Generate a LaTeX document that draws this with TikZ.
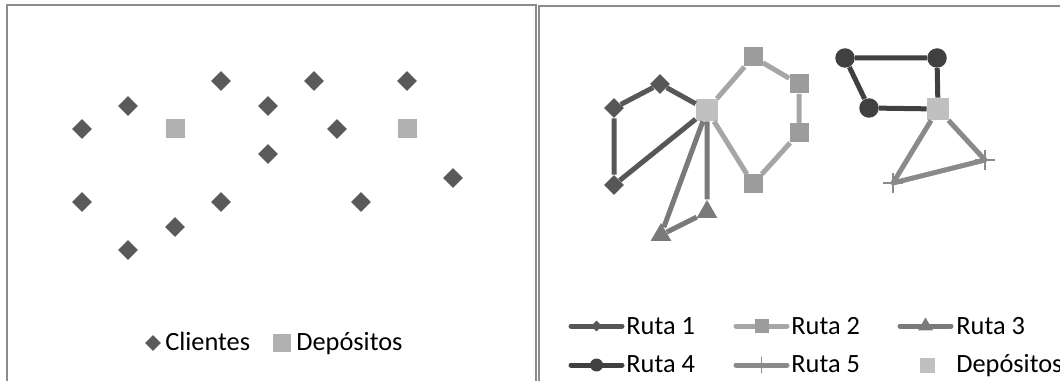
\documentclass[tikz,border=0pt]{standalone}
\usepackage{fontspec}
\setmainfont{Carlito}
\usetikzlibrary{shapes.geometric,shapes.misc}

\definecolor{cliente}{HTML}{5A5A5A}
\definecolor{depo}{HTML}{B0B0B0}
\definecolor{depoR}{HTML}{C0C0C0}
\definecolor{rutaA}{HTML}{575757}
\definecolor{rutaB}{HTML}{A6A6A6}
\definecolor{rutaBm}{HTML}{9C9C9C}
\definecolor{rutaC}{HTML}{7A7A7A}
\definecolor{rutaD}{HTML}{404040}
\definecolor{rutaE}{HTML}{8A8A8A}
\definecolor{marco}{HTML}{8C8C8C}

\begin{document}
\begin{tikzpicture}[x=0.02cm, y=-0.02cm, font=\fontsize{15}{17}\selectfont]
	\tikzstyle{cli} = [diamond, fill=cliente, inner sep=0, minimum size=0.4cm]
	\tikzstyle{dep} = [rectangle, fill=depo, inner sep=0, minimum size=0.38cm]
	\tikzstyle{r1mark} = [diamond, fill=rutaA, inner sep=0, minimum size=0.4cm]
	\tikzstyle{r2mark} = [rectangle, fill=rutaBm, inner sep=0, minimum size=0.38cm]
	\tikzstyle{r3mark} = [regular polygon, regular polygon sides=3, fill=rutaC, inner sep=0, minimum size=0.48cm]
	\tikzstyle{r4mark} = [circle, fill=rutaD, inner sep=0, minimum size=0.39cm]
	\tikzstyle{r5mark} = [cross out, draw=rutaE, line width=0.03cm, rotate=45, inner sep=0, minimum size=0.24cm]
	\tikzstyle{depR} = [rectangle, fill=depoR, inner sep=0, minimum size=0.44cm]
	\tikzstyle{ruta} = [line width=0.1cm, line join=round]
	\tikzstyle{txt} = [anchor=base west, inner sep=0, yshift=-0.16cm]

	\useasboundingbox (0,0) rectangle (1060,381);

	% marcos
	\draw[marco, line width=0.04cm] (7,381) -- (7,5) -- (536,5) -- (536,381);
	\draw[marco, line width=0.04cm] (539,381) -- (539,6) -- (1060,6);

	% clientes y depositos
	\node[cli] (c1) at (82,129) {};
	\node[cli] (c2) at (128,106) {};
	\node[cli] (c3) at (221,81) {};
	\node[cli] (c4) at (268,106) {};
	\node[cli] (c5) at (314,81) {};
	\node[cli] (c6) at (337,129) {};
	\node[cli] (c7) at (407,81) {};
	\node[cli] (c8) at (268,154) {};
	\node[cli] (c9) at (453,178) {};
	\node[cli] (c10) at (82,202) {};
	\node[cli] (c11) at (221,202) {};
	\node[cli] (c12) at (361,202) {};
	\node[cli] (c13) at (175,227) {};
	\node[cli] (c14) at (128,250) {};
	\node[dep] (d1) at (175,129) {};
	\node[dep] (d2) at (407,129) {};

	\node[cli, minimum size=0.32cm] (lc) at (153,343) {};
	\node[txt] (lct) at (165,343) {Clientes};
	\node[dep, minimum size=0.36cm] (ld) at (282,343) {};
	\node[txt] (ldt) at (296,343) {Depósitos};

	% rutas
	\node[depR] (depA) at (707,110) {};
	\node[depR] (depB) at (938,109) {};
	\node[r1mark] (r1a) at (660,84) {};
	\node[r1mark] (r1b) at (614,108) {};
	\node[r1mark] (r1c) at (614,185) {};
	\node[r2mark] (r2a) at (753,57) {};
	\node[r2mark] (r2b) at (799,84) {};
	\node[r2mark] (r2c) at (799,133) {};
	\node[r2mark] (r2d) at (753,184) {};
	\node[r3mark] (r3a) at (707,212) {};
	\node[r3mark] (r3b) at (661,235) {};
	\node[r4mark] (r4a) at (937,58) {};
	\node[r4mark] (r4b) at (845,58) {};
	\node[r4mark] (r4c) at (869,108) {};
	\node[r5mark] (r5a) at (985,160) {};
	\node[r5mark] (r5b) at (893,183) {};

	\draw[ruta, rutaA] (depA) -- (r1a) -- (r1b) -- (r1c) -- (depA);
	\draw[ruta, rutaB] (depA) -- (r2a) -- (r2b) -- (r2c) -- (r2d) -- (depA);
	\draw[ruta, rutaC] (depA) -- (r3a) -- (r3b) -- (depA);
	\draw[ruta, rutaD] (depB) -- (r4a) -- (r4b) -- (r4c) -- (depB);
	\draw[ruta, rutaE] (depB) -- (r5a.center) -- (r5b.center) -- (depB);

	% leyenda
	\coordinate (k1a) at (571,326);
	\coordinate (k1b) at (622,326);
	\coordinate (k2a) at (736,326);
	\coordinate (k2b) at (787,326);
	\coordinate (k3a) at (900,326);
	\coordinate (k3b) at (951,326);
	\coordinate (k4a) at (571,365);
	\coordinate (k4b) at (622,365);
	\coordinate (k5a) at (736,365);
	\coordinate (k5b) at (787,365);
	\draw[ruta, line cap=round, rutaA] (k1a) -- (k1b) node[midway, r1mark, minimum size=0.26cm] (k1m) {};
	\draw[ruta, line cap=round, rutaB] (k2a) -- (k2b) node[midway, r2mark, minimum size=0.28cm] (k2m) {};
	\draw[ruta, line cap=round, rutaC] (k3a) -- (k3b) node[midway, r3mark, minimum size=0.34cm] (k3m) {};
	\draw[ruta, line cap=round, rutaD] (k4a) -- (k4b) node[midway, r4mark, minimum size=0.26cm] (k4m) {};
	\draw[ruta, line cap=round, rutaE] (k5a) -- (k5b) node[midway, r5mark, line width=0.02cm, minimum size=0.2cm] (k5m) {};
	\node[depR, minimum size=0.3cm] (k6m) at (927,365) {};
	\node[txt] (k1t) at (626,326) {Ruta 1};
	\node[txt] (k2t) at (791,326) {Ruta 2};
	\node[txt] (k3t) at (956,326) {Ruta 3};
	\node[txt] (k4t) at (626,365) {Ruta 4};
	\node[txt] (k5t) at (791,365) {Ruta 5};
	\node[txt] (k6t) at (956,365) {Depósitos};
\end{tikzpicture}
\end{document}
